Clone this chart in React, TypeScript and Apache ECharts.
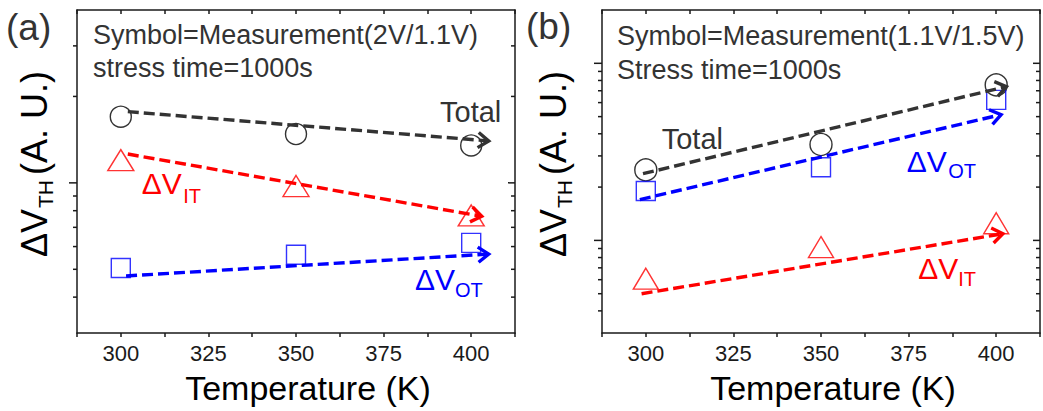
import React, { useEffect, useRef } from "react";
import * as echarts from "echarts";

const FONT = 'Arial, "Liberation Sans", sans-serif';

// shared x axis
const temps = [300, 350, 400];
const xMin = 287.5;
const xMax = 412.5;
const xStep = 12.5;

// panel (a) measurements (A.U.)
const aTotal = [1.7, 1.48, 1.35];
const aIT = [1.2, 0.975, 0.77];
const aOT = [0.505, 0.562, 0.618];
// trend arrows (a): [xStart, yStart, xEnd, yEnd]
const aArrowTotal = [302, 1.77, 405, 1.4];
const aArrowIT = [302, 1.26, 403, 0.765];
const aArrowOT = [301.5, 0.474, 405, 0.565];
const aYMin = 0.3;
const aYMax = 4;
const aMinorTicks = [0.4, 0.5, 0.6, 0.7, 0.8, 0.9, 2, 3];
const aMajorTicks = [1];

// panel (b) measurements (A.U.)
const bTotal = [2.5, 3.48, 7.55];
const bOT = [1.9, 2.59, 6.22];
const bIT = [0.608, 0.917, 1.25];
const bArrowTotal = [299.2, 2.38, 402.9, 7.39];
const bArrowOT = [298.3, 1.7, 401.4, 5.13];
const bArrowIT = [298.8, 0.5, 401.9, 1.09];
const bYMin = 0.3;
const bYMax = 20;
const bMinorTicks = [0.4, 0.5, 0.6, 0.7, 0.8, 0.9, 2, 3, 4, 5, 6, 7, 8, 9];
const bMajorTicks = [1, 10];

const AX = "#1a1a1a";
const BLACK = "#333333";
const RED = "#ff0000";
const BLUE = "#0000ff";

function arrowRender(color: string) {
  return (params: any, api: any) => {
    const p0 = api.coord([api.value(0), api.value(1)]);
    const p1 = api.coord([api.value(2), api.value(3)]);
    const ang = Math.atan2(p1[1] - p0[1], p1[0] - p0[0]);
    const L = 13;
    const a = 0.62;
    const h1 = [p1[0] - L * Math.cos(ang - a), p1[1] - L * Math.sin(ang - a)];
    const h2 = [p1[0] - L * Math.cos(ang + a), p1[1] - L * Math.sin(ang + a)];
    return {
      type: "group",
      children: [
        {
          type: "line",
          shape: { x1: p0[0], y1: p0[1], x2: p1[0], y2: p1[1] },
          style: { stroke: color, lineWidth: 3.4, lineDash: [11, 5], fill: null },
        },
        {
          type: "polyline",
          shape: { points: [h1, p1, h2] },
          style: { stroke: color, lineWidth: 3.4, fill: null },
        },
      ],
    };
  };
}

function tickRender(majors: number[]) {
  return (params: any, api: any) => {
    const v = api.value(1);
    const pl = api.coord([xMin, v]);
    const pr = api.coord([xMax, v]);
    const major = majors.indexOf(v) >= 0;
    const Ll = major ? 8 : 4;
    const Lr = major ? 7 : 4;
    return {
      type: "group",
      children: [
        {
          type: "line",
          shape: { x1: pl[0] - Ll, y1: pl[1], x2: pl[0], y2: pl[1] },
          style: { stroke: AX, lineWidth: 1.5 },
        },
        {
          type: "line",
          shape: { x1: pr[0] - Lr, y1: pr[1], x2: pr[0], y2: pr[1] },
          style: { stroke: AX, lineWidth: 1.5 },
        },
      ],
    };
  };
}

function xAxes(gridIndex: number) {
  return [
    {
      gridIndex,
      type: "value",
      min: xMin,
      max: xMax,
      interval: xStep,
      axisLine: { show: true, onZero: false, lineStyle: { color: AX, width: 1.5 } },
      axisTick: { show: true, inside: false, length: 4, lineStyle: { color: AX, width: 1.5 } },
      axisLabel: {
        formatter: (v: number) => (v % 25 === 0 ? String(v) : ""),
        fontSize: 22,
        margin: 9,
        color: AX,
        fontFamily: FONT,
      },
      splitLine: { show: false },
      name: "Temperature (K)",
      nameLocation: "middle",
      nameGap: 38,
      nameTextStyle: { fontSize: 34, color: "#000", fontFamily: FONT, padding: [0, 0, 0, 24] },
    },
    {
      gridIndex,
      type: "value",
      position: "top",
      min: xMin,
      max: xMax,
      interval: xStep,
      axisLine: { show: true, onZero: false, lineStyle: { color: AX, width: 1.5 } },
      axisTick: { show: true, inside: true, length: 4, lineStyle: { color: AX, width: 1.5 } },
      axisLabel: { show: false },
      splitLine: { show: false },
    },
  ];
}

function yAxes(gridIndex: number, min: number, max: number) {
  return ["left", "right"].map((position) => ({
    gridIndex,
    type: "log",
    logBase: 10,
    position,
    min,
    max,
    axisLine: { show: true, onZero: false, lineStyle: { color: AX, width: 1.5 } },
    axisTick: { show: false },
    axisLabel: { show: false },
    splitLine: { show: false },
    minorTick: { show: false },
  }));
}

function scatter(xi: number, yi: number, data: number[], symbol: string, size: any, color: string) {
  return {
    type: "scatter",
    xAxisIndex: xi,
    yAxisIndex: yi,
    data: temps.map((t, i) => [t, data[i]]),
    symbol,
    symbolSize: size,
    itemStyle: { color: "transparent", borderColor: color, borderWidth: 1.4 },
    z: 3,
    silent: true,
  };
}

function arrow(xi: number, yi: number, row: number[], color: string) {
  return {
    type: "custom",
    xAxisIndex: xi,
    yAxisIndex: yi,
    dimensions: ["x0", "y0", "x1", "y1"],
    encode: { x: [0, 2], y: [1, 3] },
    data: [row],
    renderItem: arrowRender(color),
    z: 5,
    silent: true,
    clip: false,
  };
}

function ticks(xi: number, yi: number, minor: number[], major: number[]) {
  return {
    type: "custom",
    xAxisIndex: xi,
    yAxisIndex: yi,
    data: minor.concat(major).map((v) => [xMin, v]),
    renderItem: tickRender(major),
    z: 2,
    silent: true,
    clip: false,
  };
}

function txt(x: number, y: number, text: string, fontSize: number, fill: string) {
  return {
    type: "text",
    x,
    y,
    style: { text, fontSize, fontFamily: FONT, fill, align: "left", verticalAlign: "middle" },
  };
}

function subLabel(x: number, y: number, sub: string, subX: number, subY: number, color: string) {
  return {
    type: "group",
    x,
    y,
    children: [txt(0, 0, "ΔV", 30, color), txt(subX, subY, sub, 20, color)],
  };
}

function yTitle(x: number, y: number) {
  return {
    type: "group",
    x,
    y,
    rotation: Math.PI / 2,
    children: [
      txt(0, 0, "ΔV", 36, "#000"),
      txt(49, 11, "TH", 21, "#000"),
      txt(82, 0, "(A. U.)", 36, "#000"),
    ],
  };
}

export default function App() {
  const ref = useRef<HTMLDivElement>(null);
  useEffect(() => {
    if (!ref.current) return;
    const chart = echarts.init(ref.current, null, { renderer: "svg" });
    const option: any = {
      animation: false,
      backgroundColor: "#ffffff",
      grid: [
        { left: 77, top: 10, width: 438, height: 323 },
        { left: 602, top: 10, width: 438, height: 323 },
      ],
      xAxis: [...xAxes(0), ...xAxes(1)],
      yAxis: [...yAxes(0, aYMin, aYMax), ...yAxes(1, bYMin, bYMax)],
      series: [
        ticks(0, 0, aMinorTicks, aMajorTicks),
        scatter(0, 0, aTotal, "circle", 21, "#000"),
        scatter(0, 0, aIT, "triangle", [26, 21], RED),
        scatter(0, 0, aOT, "rect", 19, BLUE),
        arrow(0, 0, aArrowTotal, BLACK),
        arrow(0, 0, aArrowIT, RED),
        arrow(0, 0, aArrowOT, BLUE),
        ticks(2, 2, bMinorTicks, bMajorTicks),
        scatter(2, 2, bTotal, "circle", 22, "#000"),
        scatter(2, 2, bOT, "rect", 19, BLUE),
        scatter(2, 2, bIT, "triangle", [25, 21], RED),
        arrow(2, 2, bArrowTotal, BLACK),
        arrow(2, 2, bArrowOT, BLUE),
        arrow(2, 2, bArrowIT, RED),
      ],
      graphic: [
        txt(6, 27, "(a)", 37, "#333"),
        txt(526, 26, "(b)", 37, "#333"),
        txt(93, 35, "Symbol=Measurement(2V/1.1V)", 27, "#333"),
        txt(93, 68, "stress time=1000s", 27, "#333"),
        txt(617, 36, "Symbol=Measurement(1.1V/1.5V)", 27, "#333"),
        txt(617, 70, "Stress time=1000s", 27, "#333"),
        txt(440, 112, "Total", 29, "#333"),
        subLabel(141.7, 183.7, "IT", 41.6, 12, RED),
        subLabel(415, 279, "OT", 40, 11, BLUE),
        txt(661.7, 139, "Total", 29, "#333"),
        subLabel(906.7, 161.7, "OT", 41.6, 9, BLUE),
        subLabel(918.3, 268.3, "IT", 40, 11, RED),
        yTitle(34, 257),
        yTitle(553, 257),
      ],
    };
    chart.setOption(option);
    return () => chart.dispose();
  }, []);
  return (
    <div
      ref={ref}
      style={{ position: "absolute", left: 0, top: 0, width: 1043, height: 411 }}
    />
  );
}
